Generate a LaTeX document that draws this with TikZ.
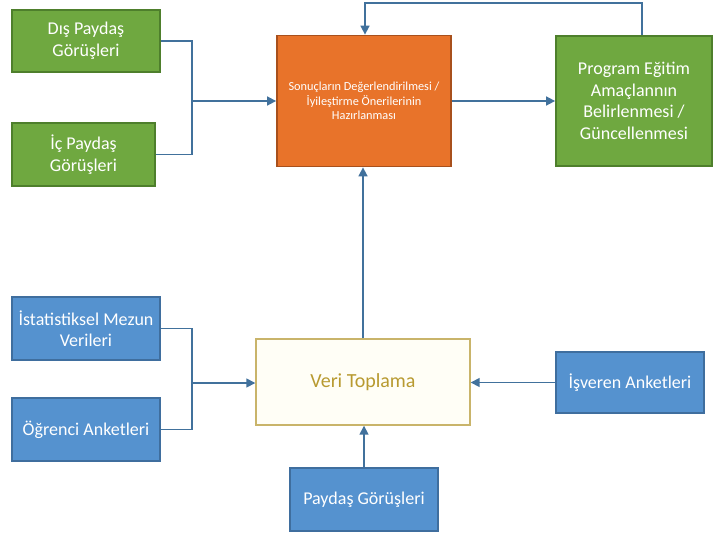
\documentclass[tikz,border=0pt]{standalone}
\usepackage{fontspec}
\setmainfont{Carlito}
\usetikzlibrary{arrows.meta}
\definecolor{gfill}{HTML}{6FA840}
\definecolor{gdraw}{HTML}{4E7F2C}
\definecolor{bfill}{HTML}{5592CF}
\definecolor{bdraw}{HTML}{3F6E9E}
\definecolor{ofill}{HTML}{E8732A}
\definecolor{odraw}{HTML}{A8501C}
\definecolor{vfill}{HTML}{FFFEF6}
\definecolor{vdraw}{HTML}{C9B46A}
\definecolor{vtext}{HTML}{B89A30}
\definecolor{arr}{HTML}{41719C}
\begin{document}
\begin{tikzpicture}[x=1pt,y=-1pt,
  box/.style={draw, line width=1.8pt, text=white, align=center, inner sep=0pt, font=\fontsize{18}{21.5}\selectfont},
  gbox/.style={box, fill=gfill, draw=gdraw},
  bbox/.style={box, fill=bfill, draw=bdraw},
  conn/.style={draw=arr, line width=1.6pt},
  arrw/.style={conn, -{Triangle[length=9pt,width=9pt]}}]
\useasboundingbox (0,0) rectangle (717,533);
\fill[white] (0,0) rectangle (717,533);
% top row
\node[gbox, minimum width=148pt, minimum height=62pt] (dis) at (86,41) {Dış Paydaş\\Görüşleri};
\node[gbox, minimum width=143pt, minimum height=63pt] (ic) at (83.5,154.5) {İç Paydaş\\Görüşleri};
\node[box, fill=ofill, draw=odraw, minimum width=174pt, minimum height=131pt, font=\fontsize{12.3}{14.5}\selectfont] (son) at (364,101) {Sonuçların Değerlendirilmesi /\\İyileştirme Önerilerinin\\Hazırlanması};
\node[gbox, minimum width=156pt, minimum height=130pt] (prog) at (634,101) {Program Eğitim\\Amaçlannın\\Belirlenmesi /\\Güncellenmesi};
% bottom part
\node[bbox, minimum width=148pt, minimum height=63pt] (ist) at (86,328.5) {İstatistiksel Mezun\\Verileri};
\node[bbox, minimum width=148pt, minimum height=63pt] (ogr) at (86,429.5) {Öğrenci Anketleri};
\node[box, fill=vfill, draw=vdraw, line width=1.4pt, text=vtext, minimum width=214pt, minimum height=86pt, font=\fontsize{20}{24}\selectfont] (veri) at (363,382) {Veri Toplama};
\node[bbox, minimum width=148pt, minimum height=61pt] (isv) at (630,382.5) {İşveren Anketleri};
\node[bbox, minimum width=148pt, minimum height=63pt] (pay) at (364,499.5) {Paydaş Görüşleri};
% junctions
\coordinate (j1) at (192,101);
\coordinate (j2) at (192,383);
\coordinate (t1) at (642,3);
\coordinate (t2) at (365,3);
% connectors
\draw[conn] (dis.east) -| (j1);
\draw[conn] (ic.east) -| (j1);
\draw[arrw] (j1) -- (son.west);
\draw[arrw] (son.east) -- (prog.west);
\draw[arrw] (prog.north -| t1) -- (t1) -- (t2) -- (t2 |- son.north);
\draw[conn] (ist.east) -| (j2);
\draw[conn] (ogr.east) -| (j2);
\draw[arrw] (j2) -- (j2 -| veri.west);
\draw[arrw] (isv.west) -- (isv.west -| veri.east);
\draw[arrw] (pay.north) -- (pay.north |- veri.south);
\draw[arrw] (veri.north) -- (veri.north |- son.south);
\end{tikzpicture}
\end{document}
